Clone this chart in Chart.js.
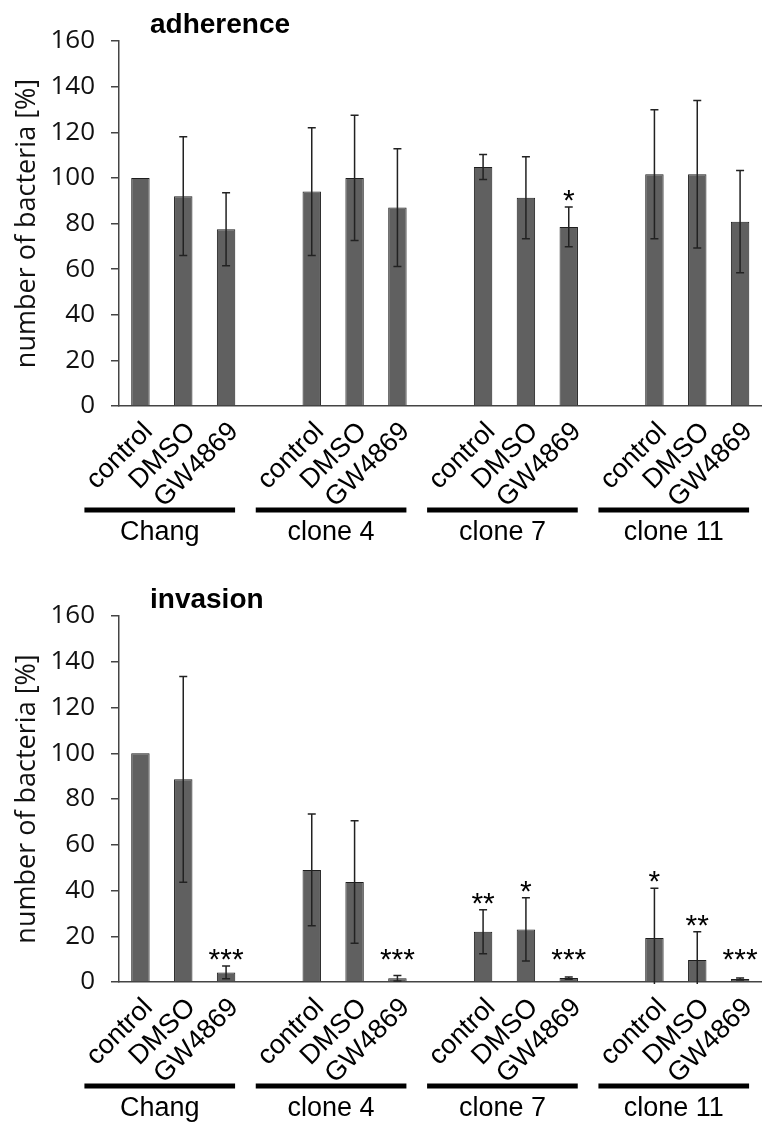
<!DOCTYPE html>
<html>
<head>
<meta charset="utf-8">
<script src="https://cdn.jsdelivr.net/npm/chart.js@4.4.1/dist/chart.umd.min.js"></script>
<style>
  body { margin: 0; background: #fff; }
  canvas { display: block; }
</style>
</head>
<body>
<canvas id="chartAdherence" width="773" height="575"></canvas>
<canvas id="chartInvasion" width="773" height="549"></canvas>
<script>
// values (mean and SD, % of Chang control)
const conditions = ['control', 'DMSO', 'GW4869'];
const cellLines = ['Chang', 'clone 4', 'clone 7', 'clone 11'];
const yTicks = [0, 20, 40, 60, 80, 100, 120, 140, 160];

const adherenceMean = [100, 92, 77.5, 94, 100, 87, 104.8, 91.3, 78.5, 101.6, 101.6, 80.8];
const adherenceSd = [0, 26, 16, 28, 27.5, 25.8, 5.5, 18, 8.7, 28.3, 32.3, 22.4];
const adherenceStars = ['', '', '', '', '', '', '', '', '*', '', '', ''];

const invasionMean = [100, 88.6, 4.2, 49, 43.7, 1.6, 22, 23, 1.7, 19.2, 9.6, 1.3];
const invasionSd = [0, 45, 2.8, 24.4, 26.8, 1.2, 9.6, 13.8, 0.5, 21.8, 12.4, 0.4];
const invasionStars = ['', '', '***', '', '', '***', '**', '*', '***', '*', '**', '***'];

// one empty slot between cell lines
function withGaps(list, filler) {
  const out = [];
  list.forEach((v, i) => {
    out.push(v);
    if (i % 3 === 2 && i < list.length - 1) out.push(filler);
  });
  return out;
}

const labels = withGaps(cellLines.flatMap(() => conditions), '');

const decorPlugin = {
  id: 'decor',
  afterDatasetsDraw(chart, args, opts) {
    const ctx = chart.ctx;
    const y = chart.scales.y;
    const meta = chart.getDatasetMeta(0);
    const means = chart.data.datasets[0].data;
    ctx.save();
    means.forEach((m, i) => {
      if (m === null) return;
      const e = opts.errors[i];
      const cx = meta.data[i].x;
      if (e > 0) {
        const top = y.getPixelForValue(m + e);
        const bot = Math.min(y.getPixelForValue(m - e), chart.chartArea.bottom + 2);
        ctx.strokeStyle = '#222';
        ctx.lineWidth = 1.5;
        ctx.beginPath();
        ctx.moveTo(cx, top);
        ctx.lineTo(cx, bot);
        ctx.moveTo(cx - 4, top);
        ctx.lineTo(cx + 4, top);
        if (m - e > 0) {
          ctx.moveTo(cx - 4, bot);
          ctx.lineTo(cx + 4, bot);
        }
        ctx.stroke();
      }
      const s = opts.stars[i];
      if (s) {
        ctx.fillStyle = '#000';
        ctx.font = '30px "Liberation Sans", Arial, sans-serif';
        ctx.textAlign = 'center';
        ctx.textBaseline = 'alphabetic';
        ctx.fillText(s, cx, y.getPixelForValue(Math.max(m + e, 7)) + 3);
      }
    });
    ctx.restore();
  },
  afterDraw(chart, args, opts) {
    const ctx = chart.ctx;
    const x = chart.scales.x;
    const area = chart.chartArea;
    ctx.save();
    // panel title
    ctx.fillStyle = '#000';
    ctx.font = 'bold 28px "Liberation Sans", Arial, sans-serif';
    ctx.textAlign = 'left';
    ctx.textBaseline = 'alphabetic';
    ctx.fillText(opts.title, area.left + 31, 33);
    // cell line bars and names
    cellLines.forEach((name, g) => {
      const x1 = x.getPixelForValue(g * 4) - 56;
      const x2 = x.getPixelForValue(g * 4 + 2) + 9;
      ctx.strokeStyle = '#000';
      ctx.lineWidth = 5;
      ctx.beginPath();
      ctx.moveTo(x1, area.bottom + 104);
      ctx.lineTo(x2, area.bottom + 104);
      ctx.stroke();
      ctx.font = '27px "Liberation Sans", Arial, sans-serif';
      ctx.textAlign = 'center';
      ctx.textBaseline = 'middle';
      ctx.fillText(name, (x1 + x2) / 2, area.bottom + 127);
    });
    ctx.restore();
  }
};

function makeChart(id, title, means, sds, stars, xHeight) {
  return new Chart(document.getElementById(id), {
    type: 'bar',
    data: {
      labels: labels,
      datasets: [{
        data: withGaps(means, null),
        backgroundColor: '#606060',
        borderColor: '#1e1e1e',
        borderWidth: 1,
        barPercentage: 0.43,
        categoryPercentage: 1
      }]
    },
    options: {
      responsive: false,
      animation: false,
      layout: { padding: { top: 41, left: 0, right: 0, bottom: 0 } },
      plugins: {
        legend: { display: false },
        tooltip: { enabled: false },
        decor: { title: title, errors: withGaps(sds, 0), stars: withGaps(stars, '') }
      },
      scales: {
        x: {
          grid: { display: false, drawTicks: false },
          border: { display: true, color: '#444', width: 1.5 },
          ticks: {
            autoSkip: false,
            maxRotation: 45,
            minRotation: 45,
            labelOffset: 8,
            padding: 10,
            color: '#000',
            font: { family: '"Liberation Sans", Arial, sans-serif', size: 27 }
          },
          afterFit: s => { s.height = xHeight; }
        },
        y: {
          min: yTicks[0],
          max: yTicks[yTicks.length - 1],
          grid: { drawOnChartArea: false, drawTicks: true, tickLength: 8, color: '#444', lineWidth: 1.5 },
          border: { display: true, color: '#444', width: 1.5 },
          ticks: {
            stepSize: yTicks[1] - yTicks[0],
            padding: 16,
            color: '#111',
            font: { family: '"Open Sans", sans-serif', size: 26 }
          },
          title: {
            display: true,
            text: 'number of bacteria [%]',
            color: '#111',
            padding: { top: 11, bottom: 0 },
            font: { family: '"Open Sans", sans-serif', size: 27 }
          },
          afterFit: s => { s.width = 119; }
        }
      }
    },
    plugins: [decorPlugin]
  });
}

makeChart('chartAdherence', 'adherence', adherenceMean, adherenceSd, adherenceStars, 169);
makeChart('chartInvasion', 'invasion', invasionMean, invasionSd, invasionStars, 142);
</script>
</body>
</html>
